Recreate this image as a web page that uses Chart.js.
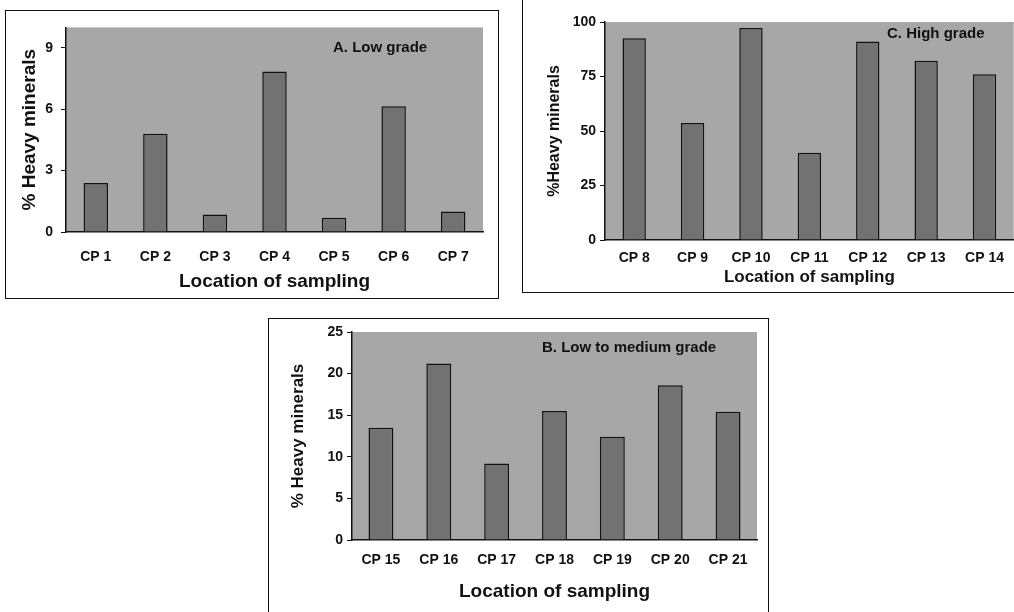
<!DOCTYPE html>
<html>
<head>
<meta charset="utf-8">
<script src="https://cdn.jsdelivr.net/npm/chart.js@4.4.0/dist/chart.umd.min.js"></script>
<style>
  body { margin: 0; background: #fff; width: 1014px; height: 612px; overflow: hidden; position: relative;
         font-family: Arial, "Liberation Sans", sans-serif; }
  canvas { position: absolute; }
  .frame { position: absolute; border: 1.5px solid #111; box-sizing: border-box; }
  .tag { position: absolute; font-weight: bold; font-size: 15px; line-height: 18px; color: #111; white-space: nowrap; }
</style>
</head>
<body>
<div class="frame" style="left:5px;top:10px;width:494px;height:289px"></div>
<div class="frame" style="left:522px;top:-3px;width:500px;height:296px"></div>
<div class="frame" style="left:268px;top:318px;width:501px;height:300px"></div>

<canvas id="chartA" width="491" height="287" style="left:6px;top:11px"></canvas>
<canvas id="chartC" width="490" height="292" style="left:524px;top:0px"></canvas>
<canvas id="chartB" width="498" height="293" style="left:269px;top:319px"></canvas>

<div class="tag" style="left:333px;top:38px">A. Low grade</div>
<div class="tag" style="left:887px;top:24px">C. High grade</div>
<div class="tag" style="left:542px;top:338px">B. Low to medium grade</div>

<script>
// panel A - low grade
const catsA = ["CP 1", "CP 2", "CP 3", "CP 4", "CP 5", "CP 6", "CP 7"];
const valsA = [2.4, 4.8, 0.85, 7.85, 0.7, 6.15, 1.0];
const ticksA = [0, 3, 6, 9];

// panel C - high grade
const catsC = ["CP 8", "CP 9", "CP 10", "CP 11", "CP 12", "CP 13", "CP 14"];
const valsC = [92.5, 53.7, 97.2, 40, 91, 82.2, 76];
const ticksC = [0, 25, 50, 75, 100];

// panel B - low to medium grade
const catsB = ["CP 15", "CP 16", "CP 17", "CP 18", "CP 19", "CP 20", "CP 21"];
const valsB = [13.5, 21.2, 9.2, 15.5, 12.4, 18.6, 15.4];
const ticksB = [0, 5, 10, 15, 20, 25];

const INK = "#111";
const FONT = "Arial, 'Liberation Sans', sans-serif";

const plotBg = {
  id: "plotBg",
  beforeDraw(chart, args, opts) {
    const { ctx, chartArea: a } = chart;
    ctx.save();
    ctx.fillStyle = opts.color;
    ctx.fillRect(a.left, a.top, a.right - a.left, a.bottom - a.top);
    ctx.restore();
  }
};

function makePanel(id, cats, vals, ticks, max, o) {
  return new Chart(document.getElementById(id), {
    type: "bar",
    data: {
      labels: cats,
      datasets: [{
        data: vals,
        backgroundColor: "#727272",
        borderColor: INK,
        borderWidth: 1.5,
        categoryPercentage: 1,
        barPercentage: o.bar
      }]
    },
    options: {
      responsive: false,
      animation: false,
      devicePixelRatio: 1,
      layout: { padding: { top: o.top, right: o.right, left: 0, bottom: 0 } },
      plugins: {
        legend: { display: false },
        tooltip: { enabled: false },
        plotBg: { color: "#a7a7a7" }
      },
      scales: {
        x: {
          grid: { display: false, drawTicks: false },
          border: { display: true, color: INK, width: 1.5 },
          ticks: { color: INK, padding: o.xPad, font: { family: FONT, size: 14, weight: "bold" } },
          title: {
            display: true, text: "Location of sampling", color: INK,
            font: { family: FONT, size: o.xTitle, weight: "bold" },
            padding: { top: 0, bottom: o.xTitlePad }
          },
          afterFit: (s) => { s.height = o.xH; }
        },
        y: {
          min: 0, max,
          grid: { display: true, drawOnChartArea: false, drawTicks: true, tickLength: 5, color: INK },
          border: { display: true, color: INK, width: 1.5 },
          ticks: { color: INK, padding: o.yPad, font: { family: FONT, size: 14, weight: "bold" } },
          title: {
            display: true, text: o.yText, color: INK,
            font: { family: FONT, size: o.yTitle, weight: "bold" },
            padding: { top: o.yTitlePad, bottom: 0 }
          },
          afterBuildTicks: (s) => { s.ticks = ticks.map((v) => ({ value: v })); },
          afterFit: (s) => { s.width = o.yW; }
        }
      }
    },
    plugins: [plotBg]
  });
}

makePanel("chartA", catsA, valsA, ticksA, 10, {
  bar: 0.41, top: 16, right: 14, xH: 66, yW: 60,
  xPad: 17, xTitle: 19, xTitlePad: 4.6, yPad: 8, yTitle: 19, yTitlePad: 12.6,
  yText: "% Heavy minerals"
});

makePanel("chartC", catsC, valsC, ticksC, 100, {
  bar: 0.40, top: 22, right: 0, xH: 52, yW: 81,
  xPad: 10, xTitle: 17, xTitlePad: 4, yPad: 4, yTitle: 16, yTitlePad: 21.4,
  yText: "%Heavy minerals"
});

makePanel("chartB", catsB, valsB, ticksB, 25, {
  bar: 0.43, top: 13, right: 10, xH: 72, yW: 83,
  xPad: 11.6, xTitle: 19, xTitlePad: 8.6, yPad: 4, yTitle: 17, yTitlePad: 19,
  yText: "% Heavy minerals"
});
</script>
</body>
</html>
